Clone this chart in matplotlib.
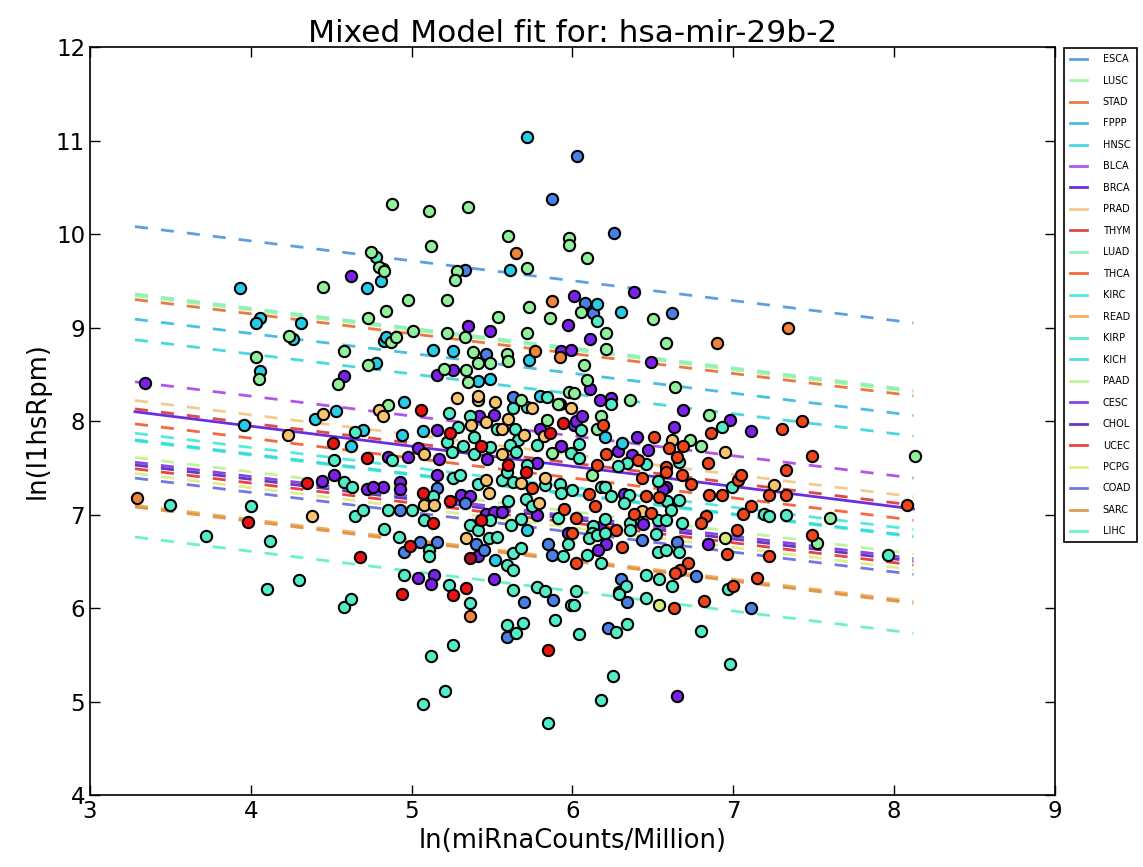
import matplotlib

matplotlib.use("Agg")
import matplotlib.pyplot as plt

# fitted lines per cancer type: value at the left end (x=3.28) and right end (x=8.12)
line_names = ["ESCA", "LUSC", "STAD", "FPPP", "HNSC", "BLCA", "BRCA", "PRAD", "THYM", "LUAD",
              "THCA", "KIRC", "READ", "KIRP", "KICH", "PAAD", "CESC", "CHOL", "UCEC", "PCPG",
              "COAD", "SARC", "LIHC"]
line_colors = ["#3f8fdc", "#93f5a4", "#e8601c", "#2ab4e0", "#2ad2d6", "#a33be0", "#5a14d0",
               "#f0c27a", "#d82a2a", "#86eeb0", "#f0501e", "#35e6d8", "#f0a040", "#38e8c4",
               "#30d8e0", "#b8f28a", "#7a22e6", "#4a16b0", "#e82020", "#d8ec78", "#5860e0",
               "#d88a3a", "#52f0c0"]
line_left = [10.08, 9.34, 9.30, 9.09, 8.87, 8.42, 8.10, 8.22, 8.13, 9.36,
             7.97, 7.87, 7.10, 7.79, 7.80, 7.61, 7.56, 7.53, 7.49, 7.44,
             7.39, 7.08, 6.76]
line_right = [9.05, 8.31, 8.27, 8.06, 7.84, 7.39, 7.06, 7.19, 7.10, 8.33,
              6.94, 6.84, 6.07, 6.76, 6.77, 6.58, 6.53, 6.50, 6.46, 6.41,
              6.36, 6.05, 5.73]
line_x = [3.28, 8.12]

# scatter points, grouped by marker colour
purple_x = [3.34, 5.35, 5.49, 5.97, 5.93, 5.99, 5.16, 5.26, 5.92, 5.42, 5.51, 5.16, 5.80, 6.01, 6.02,
            5.04, 4.98, 4.85, 5.17, 5.47, 5.78, 5.93, 6.11, 6.49, 6.11, 6.17, 6.24, 6.69, 6.98, 7.11,
            6.06, 6.40, 6.63, 6.28, 6.47, 6.37, 4.82, 4.93, 4.93, 5.16, 5.31, 5.36, 5.46, 5.51, 5.56,
            5.78, 5.41, 5.97, 5.04, 5.14, 5.12, 5.51, 6.32, 6.58, 6.56, 6.44, 6.17, 6.21, 6.16, 6.84,
            6.38, 6.01, 6.65, 4.44, 4.52, 4.62, 4.58, 4.72, 4.76]
purple_y = [8.41, 9.02, 8.96, 9.03, 8.75, 8.76, 8.49, 8.55, 8.18, 8.05, 8.06, 7.90, 7.92, 7.96, 8.00,
            7.71, 7.62, 7.62, 7.59, 7.59, 7.55, 7.73, 8.88, 8.63, 8.34, 8.22, 8.25, 8.12, 8.01, 7.89,
            8.05, 7.83, 7.94, 7.68, 7.69, 7.64, 7.29, 7.35, 7.27, 7.42, 7.21, 7.20, 7.01, 7.03, 7.03,
            7.00, 6.56, 6.80, 6.32, 6.35, 6.26, 6.31, 7.22, 7.30, 7.27, 6.90, 6.87, 6.69, 6.62, 6.69,
            9.38, 9.34, 5.06, 7.36, 7.42, 9.55, 8.48, 7.27, 7.30]

blue_x = [6.03, 5.87, 6.26, 5.33, 6.08, 6.13, 6.62, 5.46, 5.63, 5.16, 4.93, 5.33, 5.40, 5.45, 5.05,
          4.95, 5.16, 5.70, 5.88, 5.87, 5.85, 5.59, 6.43, 6.65, 6.77, 6.30, 6.29, 6.34, 7.11, 6.22]
blue_y = [10.83, 10.37, 10.01, 9.62, 9.26, 9.16, 9.16, 8.72, 8.26, 7.28, 7.05, 7.12, 6.68, 6.62, 6.71,
          6.60, 6.71, 6.06, 6.09, 6.57, 6.68, 5.69, 6.73, 6.71, 6.34, 6.31, 6.17, 6.07, 6.00, 5.79]

cyan_x = [5.72, 3.93, 4.06, 4.03, 4.31, 4.26, 4.06, 4.72, 4.82, 4.81, 5.61, 6.15, 6.30, 4.83, 4.84,
          5.13, 5.26, 5.73, 5.49, 5.41, 4.95, 5.80, 5.07, 4.94, 3.96, 4.40, 4.53, 6.20, 6.31, 5.52,
          5.72, 4.78, 4.62, 4.70]
cyan_y = [11.04, 9.42, 9.10, 9.05, 9.05, 8.88, 8.54, 9.42, 9.63, 9.50, 9.62, 9.25, 9.17, 8.86, 8.90,
          8.76, 8.75, 8.65, 8.45, 8.43, 8.20, 8.27, 7.89, 7.85, 7.96, 8.02, 8.11, 7.83, 7.76, 6.51,
          6.83, 8.62, 7.73, 7.90]

aqua_x = [3.50, 3.72, 4.00, 4.12, 4.10, 4.30, 4.52, 4.58, 4.62, 6.15, 6.24, 5.23, 5.72, 5.63, 5.84,
          5.36, 5.29, 5.22, 5.39, 5.53, 5.64, 5.66, 4.88, 5.25, 5.32, 5.49, 5.39, 5.61, 5.65, 5.72,
          5.78, 5.99, 6.93, 6.05, 6.04, 6.04, 6.34, 6.46, 6.66, 6.28, 5.13, 5.00, 5.08, 5.26, 5.30,
          5.41, 5.49, 5.60, 5.56, 5.63, 5.59, 5.71, 5.75, 5.83, 5.92, 5.93, 6.00, 5.68, 5.62, 5.36,
          5.41, 5.48, 5.53, 5.59, 5.63, 5.63, 5.68, 4.92, 5.11, 5.11, 4.95, 5.23, 5.36, 5.63, 5.78,
          5.83, 5.94, 5.97, 5.91, 5.89, 5.59, 5.69, 5.65, 5.99, 6.02, 6.18, 6.20, 6.24, 6.35, 6.32,
          6.53, 6.59, 6.66, 6.99, 7.19, 7.22, 6.68, 6.61, 6.36, 6.53, 6.58, 6.36, 6.20, 6.13, 6.12,
          6.10, 6.15, 6.20, 6.09, 6.18, 6.52, 6.53, 6.58, 6.66, 6.46, 6.54, 6.62, 6.33, 6.29, 6.46,
          6.97, 6.34, 6.27, 6.04, 6.01, 6.80, 7.96, 7.33, 5.07, 5.21, 5.12, 5.26, 5.85, 6.18, 6.25,
          6.98, 4.65, 4.70, 4.83, 4.85, 4.58, 4.63, 4.65, 4.78]
aqua_y = [7.10, 6.77, 7.09, 6.72, 6.20, 6.30, 7.58, 6.01, 6.10, 9.07, 8.18, 8.09, 8.15, 8.14, 8.26,
          8.05, 7.94, 7.78, 7.83, 7.92, 7.92, 7.80, 7.58, 7.67, 7.73, 7.72, 7.65, 7.74, 7.67, 7.53,
          7.74, 7.66, 7.94, 7.90, 7.75, 7.61, 7.55, 7.54, 7.56, 7.52, 7.20, 7.05, 6.94, 7.39, 7.42,
          7.33, 6.94, 7.15, 7.37, 7.35, 7.46, 7.17, 7.09, 7.32, 7.33, 7.23, 7.26, 6.95, 6.89, 6.89,
          6.83, 6.75, 6.76, 6.46, 6.41, 6.59, 6.64, 6.76, 6.62, 6.56, 6.35, 6.25, 6.05, 6.19, 6.23,
          6.18, 6.56, 6.68, 6.96, 5.87, 5.82, 5.84, 5.73, 6.03, 6.18, 7.30, 7.30, 7.20, 7.21, 7.12,
          7.36, 7.14, 7.16, 7.30, 7.01, 6.98, 6.91, 7.05, 6.91, 6.94, 6.94, 6.84, 6.95, 6.88, 6.80,
          6.75, 6.78, 6.80, 6.57, 6.48, 6.79, 6.60, 6.62, 6.60, 6.35, 6.31, 6.24, 6.24, 6.15, 6.11,
          6.20, 5.83, 5.74, 5.72, 6.03, 5.75, 6.57, 7.00, 4.97, 5.11, 5.49, 5.60, 4.77, 5.02, 5.27,
          5.40, 6.98, 7.05, 6.85, 7.05, 7.35, 7.30, 7.88, 9.75]

green_x = [4.03, 4.05, 4.45, 4.54, 4.24, 4.88, 5.11, 5.35, 5.12, 5.60, 5.98, 5.98, 6.09, 5.72, 5.28,
           5.27, 4.98, 5.22, 4.84, 5.73, 6.05, 5.54, 5.86, 5.01, 5.22, 5.33, 5.72, 5.38, 5.59, 5.60,
           5.41, 5.49, 5.20, 5.34, 5.35, 4.85, 5.68, 5.91, 5.98, 6.01, 5.84, 5.87, 6.50, 6.21, 6.21,
           6.58, 6.07, 6.09, 6.36, 6.64, 6.85, 6.18, 6.15, 6.73, 6.80, 6.12, 8.13, 7.60, 7.52, 4.75,
           4.80, 4.83, 4.73, 4.87, 4.90, 4.73, 4.58]
green_y = [8.69, 8.45, 9.43, 8.40, 8.91, 10.32, 10.25, 10.29, 9.87, 9.98, 9.96, 9.88, 9.74, 9.64, 9.61,
           9.51, 9.29, 9.29, 9.18, 9.22, 9.17, 9.11, 9.10, 8.96, 8.94, 8.90, 8.94, 8.74, 8.72, 8.64,
           8.62, 8.62, 8.56, 8.55, 8.42, 8.17, 8.22, 8.18, 8.31, 8.30, 8.01, 7.66, 9.09, 8.94, 8.77,
           8.84, 8.60, 8.44, 8.23, 8.36, 8.06, 8.05, 7.92, 7.80, 7.73, 7.42, 7.63, 6.96, 6.70, 9.81,
           9.65, 9.60, 8.60, 8.85, 8.90, 9.10, 8.75]

peach_x = [4.23, 4.45, 4.38, 5.28, 5.41, 5.41, 5.52, 5.75, 5.99, 5.46, 5.60, 5.37, 5.56, 5.70, 5.82,
           5.08, 5.56, 6.62, 6.95, 5.08, 5.14, 5.46, 5.48, 5.68, 5.79, 5.83, 5.34, 6.43, 7.25, 4.80,
           4.82]
peach_y = [7.85, 8.08, 6.98, 8.25, 8.22, 8.27, 8.20, 8.14, 8.14, 7.99, 8.02, 7.96, 7.91, 7.85, 7.84,
           7.65, 7.65, 7.80, 7.67, 7.10, 7.10, 7.37, 7.23, 7.34, 7.12, 7.39, 6.75, 7.04, 7.32, 8.12,
           8.05]

orange_x = [3.29, 5.65, 5.87, 5.77, 5.92, 6.90, 7.34, 5.36]
orange_y = [7.18, 9.80, 9.28, 8.75, 8.68, 8.83, 8.99, 5.91]

vermilion_x = [6.19, 6.51, 6.86, 6.69, 6.60, 6.21, 6.41, 6.65, 6.15, 6.58, 6.84, 7.30, 7.43, 7.49, 7.33,
               5.75, 5.95, 6.02, 6.10, 6.14, 6.43, 6.58, 6.68, 6.74, 6.46, 6.54, 6.85, 6.93, 7.03, 7.05,
               7.22, 7.33, 7.11, 7.06, 6.83, 6.80, 6.38, 6.49, 6.27, 6.02, 6.31, 7.02, 6.96, 7.22, 6.72,
               6.67, 6.64, 6.63, 6.82, 7.00, 7.15, 8.08, 7.49, 6.00]
vermilion_y = [7.96, 7.83, 7.87, 7.73, 7.71, 7.65, 7.58, 7.62, 7.53, 7.51, 7.55, 7.92, 8.00, 7.63, 7.48,
               7.28, 7.06, 6.96, 7.22, 7.09, 7.39, 7.45, 7.42, 7.33, 7.20, 7.19, 7.21, 7.21, 7.37, 7.42,
               7.21, 7.21, 7.09, 7.01, 6.98, 6.91, 7.01, 7.02, 6.83, 6.48, 6.65, 6.84, 6.58, 6.56, 6.48,
               6.41, 6.37, 6.00, 6.08, 6.24, 6.32, 7.10, 6.78, 6.80]

red_x = [5.06, 5.24, 5.43, 5.60, 5.86, 5.94, 3.98, 4.35, 4.51, 5.07, 5.13, 5.24, 5.43, 5.71, 4.99,
         5.34, 5.26, 4.94, 5.85, 4.68, 4.72]
red_y = [8.12, 7.87, 7.73, 7.53, 7.87, 7.98, 6.92, 7.34, 7.77, 7.23, 6.91, 7.15, 6.94, 7.46, 6.66,
         6.21, 6.14, 6.15, 5.55, 6.55, 7.60]

darkred_x = [5.36]
darkred_y = [6.54]

lime_x = [6.95, 6.54]
lime_y = [6.75, 6.03]

point_groups = [
  (purple_x, purple_y, "#7a22e8"),
  (blue_x, blue_y, "#4a80e6"),
  (cyan_x, cyan_y, "#28cce6"),
  (aqua_x, aqua_y, "#52ecc6"),
  (green_x, green_y, "#90f09c"),
  (peach_x, peach_y, "#f6c470"),
  (orange_x, orange_y, "#f0843a"),
  (vermilion_x, vermilion_y, "#f0441c"),
  (red_x, red_y, "#ea1212"),
  (darkred_x, darkred_y, "#a8101c"),
  (lime_x, lime_y, "#d6ec7a"),
]


def main():
  fig = plt.figure(figsize=(11.43, 8.67), dpi=100)
  ax = fig.add_axes([0.0787, 0.083, 0.8443, 0.8627])

  handles = []
  for name, color, y0, y1 in zip(line_names, line_colors, line_left, line_right):
    if name == "BRCA":
      (h,) = ax.plot(line_x, [y0, y1], color="#6a2ee0", linewidth=2.0, label=name, zorder=3)
    else:
      (h,) = ax.plot(line_x, [y0, y1], color=color, linewidth=2.0, dashes=(4.7, 4.7),
                     alpha=0.85, label=name, zorder=2)
    handles.append(h)

  for xs, ys, color in point_groups:
    ax.scatter(xs, ys, s=66, c=color, edgecolors="black", linewidths=1.5, zorder=4)

  ax.set_xlim(3, 9)
  ax.set_ylim(4, 12)
  ax.set_xticks(range(3, 10))
  ax.set_yticks(range(4, 13))
  ax.tick_params(direction="in", top=True, right=True, length=7, width=1, labelsize=16.5)
  for spine in ax.spines.values():
    spine.set_linewidth(1.2)

  ax.set_title("Mixed Model fit for: hsa-mir-29b-2", fontsize=22.5, pad=4)
  ax.set_xlabel("ln(miRnaCounts/Million)", fontsize=18.5)
  ax.set_ylabel("ln(l1hsRpm)", fontsize=18.5)

  leg = fig.legend(handles=handles, loc="upper left", bbox_to_anchor=(0.9265, 0.95),
                   bbox_transform=fig.transFigure, fontsize=7, labelspacing=1.18,
                   handlelength=1.8, handletextpad=1.6, borderpad=0.6, fancybox=False,
                   framealpha=1, edgecolor="black")
  leg.get_frame().set_linewidth(1.2)
  for h in leg.get_lines():
    h.set_linestyle("-")

  fig.savefig("out.png", dpi=100)
  plt.close(fig)


if __name__ == "__main__":
  main()
